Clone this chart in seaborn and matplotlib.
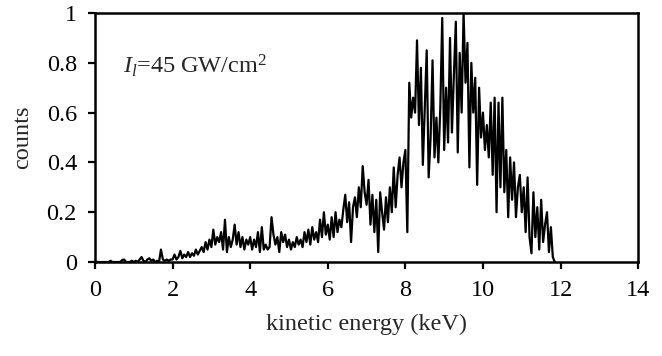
import numpy as np
import pandas as pd
import matplotlib
matplotlib.use("Agg")
import matplotlib.pyplot as plt
import seaborn as sns

# spectrum counts, one value per 0.05 keV bin starting at 0 keV
bin_width = 0.05
counts_0 = [0, 0, 0, 0, 0, 0, 0, 0, 0.005, 0, 0, 0, 0, 0, 0.008, 0.01, 0, 0, 0, 0.005]
counts_1 = [0, 0.005, 0, 0.01, 0.02, 0.005, 0, 0.01, 0.015, 0.005, 0.01, 0, 0.005, 0, 0.05, 0.01, 0.005, 0.01, 0.005, 0.01]
counts_2 = [0.01, 0.03, 0.01, 0.02, 0.045, 0.015, 0.03, 0.02, 0.04, 0.02, 0.035, 0.025, 0.05, 0.03, 0.045, 0.06, 0.04, 0.08, 0.05, 0.09]
counts_3 = [0.06, 0.13, 0.07, 0.1, 0.08, 0.12, 0.05, 0.17, 0.04, 0.1, 0.06, 0.09, 0.15, 0.07, 0.12, 0.06, 0.1, 0.05, 0.09, 0.07]
counts_4 = [0.1, 0.05, 0.09, 0.06, 0.12, 0.04, 0.14, 0.05, 0.07, 0.05, 0.06, 0.18, 0.11, 0.07, 0.1, 0.04, 0.12, 0.08, 0.11, 0.06]
counts_5 = [0.09, 0.05, 0.08, 0.06, 0.1, 0.07, 0.09, 0.06, 0.12, 0.08, 0.13, 0.07, 0.14, 0.09, 0.12, 0.08, 0.17, 0.1, 0.2, 0.11]
counts_6 = [0.15, 0.09, 0.18, 0.1, 0.2, 0.12, 0.17, 0.14, 0.21, 0.27, 0.16, 0.24, 0.08, 0.22, 0.26, 0.18, 0.3, 0.22, 0.385, 0.28]
counts_7 = [0.23, 0.33, 0.15, 0.27, 0.12, 0.25, 0.04, 0.28, 0.2, 0.13, 0.26, 0.16, 0.3, 0.2, 0.38, 0.22, 0.35, 0.42, 0.3, 0.4]
counts_8 = [0.45, 0.12, 0.72, 0.58, 0.66, 0.6, 0.89, 0.55, 0.78, 0.39, 0.62, 0.85, 0.34, 0.5, 0.81, 0.42, 0.58, 0.4, 0.62, 0.98]
counts_9 = [0.45, 0.7, 0.48, 0.9, 0.52, 0.75, 0.965, 0.44, 0.84, 0.6, 1.0, 0.72, 0.88, 0.38, 0.8, 0.6, 0.74, 0.31, 0.7, 0.5]
counts_10 = [0.6, 0.45, 0.55, 0.42, 0.64, 0.35, 0.66, 0.2, 0.64, 0.3, 0.66, 0.28, 0.45, 0.18, 0.42, 0.25, 0.4, 0.18, 0.3, 0.35]
counts_11 = [0.2, 0.3, 0.12, 0.34, 0.1, 0.035, 0.28, 0.1, 0.22, 0.05, 0.25, 0.08, 0.15, 0.2, 0.04, 0.14, 0.02, 0.0]

counts = counts_0 + counts_1 + counts_2 + counts_3 + counts_4 + counts_5 + counts_6 + counts_7 + counts_8 + counts_9 + counts_10 + counts_11
energy = np.round(np.arange(len(counts)) * bin_width, 2)
df = pd.DataFrame({"energy": energy, "counts": counts})

x_ticks = [0, 2, 4, 6, 8, 10, 12, 14]
y_ticks = [0, 0.2, 0.4, 0.6, 0.8, 1]
y_tick_labels = ["0", "0.2", "0.4", "0.6", "0.8", "1"]

sns.set_style("ticks")
plt.rcParams["font.family"] = ["Liberation Serif", "DejaVu Serif"]
plt.rcParams["mathtext.fontset"] = "custom"
plt.rcParams["mathtext.rm"] = "Liberation Serif"
plt.rcParams["mathtext.it"] = "Liberation Serif:italic"

fig = plt.figure(figsize=(6.62, 3.56), dpi=100)
ax = fig.add_axes([0.1435, 0.264, 0.8205, 0.6995])
sns.lineplot(data=df, x="energy", y="counts", color="black", linewidth=1.6, ax=ax)

ax.set_xlim(0, 14)
ax.set_ylim(0, 1)
ax.set_xticks(x_ticks)
ax.set_yticks(y_ticks)
ax.set_yticklabels(y_tick_labels)
for s in ax.spines.values():
    s.set_linewidth(1.8)
    s.set_color("black")
ax.tick_params(direction="out", length=5, width=1.6, labelsize=17.5, colors="black", pad=8)
ax.set_xlabel("kinetic energy (keV)", fontsize=17.5, labelpad=9)
ax.set_ylabel("counts", fontsize=17.5, labelpad=10)
ax.text(0.72, 0.76, r"$I_l$=45 GW/cm$^{2}$", fontsize=17.5, ha="left", va="baseline")

fig.savefig("out.png", dpi=100)
